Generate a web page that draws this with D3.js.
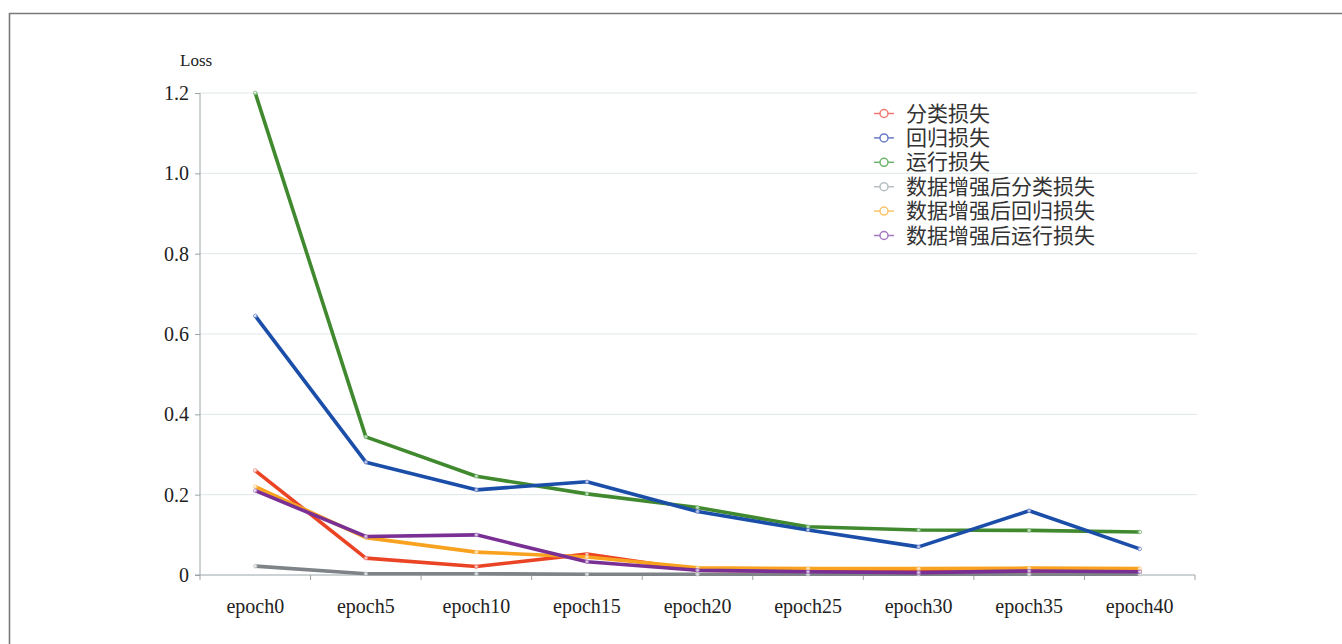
<!DOCTYPE html>
<html><head><meta charset="utf-8">
<script src="https://cdn.jsdelivr.net/npm/d3@7"></script>
<style>body{margin:0;background:#fff}svg{display:block}.serif{font-family:"Times New Roman","Liberation Serif","DejaVu Serif",serif}</style>
</head><body>
<svg id="c" width="1342" height="644"></svg>
<script>
const categories = ["epoch0","epoch5","epoch10","epoch15","epoch20","epoch25","epoch30","epoch35","epoch40"];
const seriesNames = ["分类损失","回归损失","运行损失","数据增强后分类损失","数据增强后回归损失","数据增强后运行损失"];
const clsLoss   = [0.26, 0.042, 0.021, 0.052, 0.012, 0.010, 0.010, 0.010, 0.010];
const regLoss   = [0.645, 0.281, 0.212, 0.232, 0.158, 0.112, 0.070, 0.160, 0.065];
const runLoss   = [1.2, 0.344, 0.246, 0.202, 0.168, 0.120, 0.112, 0.111, 0.107];
const augCls    = [0.022, 0.003, 0.003, 0.002, 0.002, 0.002, 0.002, 0.002, 0.002];
const augReg    = [0.22, 0.093, 0.057, 0.045, 0.018, 0.016, 0.016, 0.017, 0.016];
const augRun    = [0.21, 0.096, 0.100, 0.033, 0.012, 0.008, 0.006, 0.010, 0.008];
const yTicks    = [0, 0.2, 0.4, 0.6, 0.8, 1.0, 1.2];
const yTickLabels = ["0","0.2","0.4","0.6","0.8","1.0","1.2"];
const colors = ["#ea4425","#1b4ea8","#41892f","#7d8386","#f9a21f","#7a2f95"];
const legendColors = ["#f07a72","#6a7cc6","#6fb46c","#b7bfc3","#fbc56c","#a578bf"];

const series = [clsLoss, regLoss, runLoss, augCls, augReg, augRun];
const drawOrder = [2,1,3,0,4,5];

const svg = d3.select("#c");
svg.append("path").attr("d","M9.5,644 L9.5,13.5 L1342,13.5").attr("fill","none").attr("stroke","#7a7a7a").attr("stroke-width",1.6);

const x = d3.scaleBand().domain(categories).range([200,1195]);
const y = d3.scaleLinear().domain([0,1.2]).range([575,93]);

svg.append("g").selectAll("line").data(yTicks.filter(d=>d>0)).join("line")
  .attr("x1",200).attr("x2",1197).attr("y1",d=>y(d)).attr("y2",d=>y(d))
  .attr("stroke","#dfe7e8").attr("stroke-width",1);

const ya = svg.append("g").attr("transform","translate(200,0)")
  .call(d3.axisLeft(y).tickValues(yTicks).tickFormat((d,i)=>yTickLabels[i]).tickSize(5).tickPadding(6));
ya.attr("font-family",null).attr("font-size",null);
ya.select(".domain").attr("stroke","#9aa4a8").attr("d","M0,93 V575");
ya.selectAll(".tick line").attr("stroke","#9aa4a8");
ya.selectAll("text").attr("class","serif").style("font-size","20px").attr("fill","#222");

const xa = svg.append("g").attr("transform","translate(0,575)")
  .call(d3.axisBottom(x).tickSize(0).tickPadding(24));
xa.attr("font-family",null).attr("font-size",null);
xa.select(".domain").attr("stroke","#9aa4a8").attr("d","M195,0 H1195");
xa.selectAll("text").attr("class","serif").style("font-size","20px").attr("fill","#222");
const bounds = categories.map((c,i)=>x(c)).concat([1195]);
xa.selectAll(".bt").data(bounds).join("line").attr("class","bt")
  .attr("x1",d=>d).attr("x2",d=>d).attr("y1",0).attr("y2",5).attr("stroke","#9aa4a8");

svg.append("text").attr("class","serif").attr("x",180).attr("y",66).style("font-size","17px").attr("fill","#222").text("Loss");

const cx = c => x(c) + x.bandwidth()/2;
const line = d3.line().x((d,i)=>cx(categories[i])).y(d=>y(d));
drawOrder.forEach(k=>{
  const g = svg.append("g");
  g.append("path").datum(series[k]).attr("d",line).attr("fill","none")
    .attr("stroke",colors[k]).attr("stroke-width",3.6).attr("stroke-linejoin","round");
  g.selectAll("circle").data(series[k]).join("circle")
    .attr("cx",(d,i)=>cx(categories[i])).attr("cy",d=>y(d)).attr("r",1.8)
    .attr("fill","#fff").attr("fill-opacity",0.7).attr("stroke",legendColors[k]).attr("stroke-width",0.8);
});

const lg = svg.append("g");
seriesNames.forEach((n,i)=>{
  const yy = 113.5 + i*24.4;
  lg.append("line").attr("x1",874).attr("x2",894).attr("y1",yy).attr("y2",yy).attr("stroke",legendColors[i]).attr("stroke-width",1.5);
  lg.append("circle").attr("cx",884).attr("cy",yy).attr("r",4).attr("fill","#fff").attr("stroke",legendColors[i]).attr("stroke-width",1.5);
  lg.append("text").attr("x",906).attr("y",yy+7).style("font-family","'Noto Sans CJK SC',sans-serif")
    .style("font-size","21px").attr("fill","#333").text(n);
});
</script>
</body></html>
